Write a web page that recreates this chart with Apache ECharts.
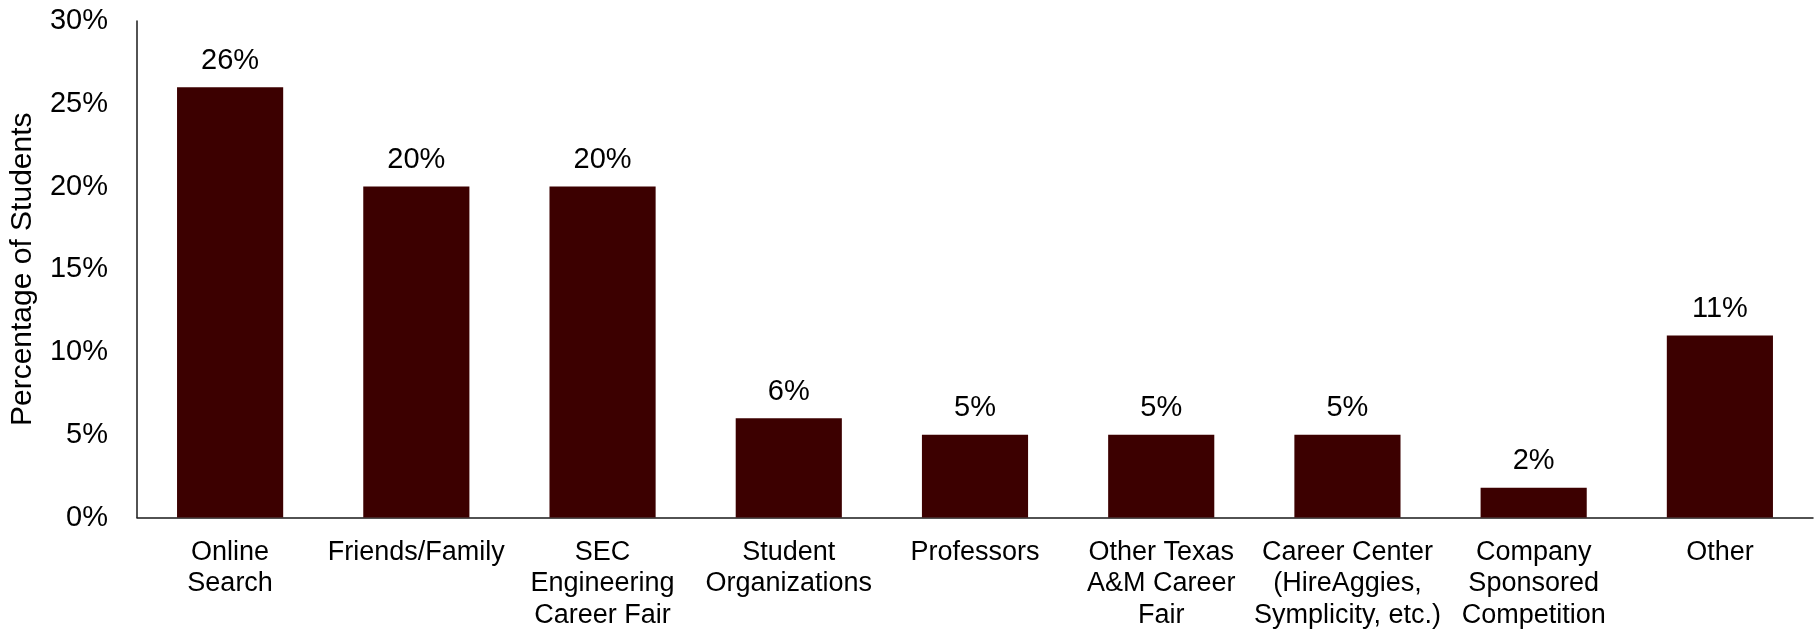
<!DOCTYPE html>
<html>
<head>
<meta charset="utf-8">
<script src="https://cdn.jsdelivr.net/npm/echarts@6/dist/echarts.min.js"></script>
<style>
html,body{margin:0;padding:0;background:#fff;}
#chart{width:1819px;height:631px;}
</style>
</head>
<body>
<div id="chart"></div>
<script>
const categories = [
  "Online\nSearch",
  "Friends/Family",
  "SEC\nEngineering\nCareer Fair",
  "Student\nOrganizations",
  "Professors",
  "Other Texas\nA&M Career\nFair",
  "Career Center\n(HireAggies,\nSymplicity, etc.)",
  "Company\nSponsored\nCompetition",
  "Other"
];
const values = [26, 20, 20, 6, 5, 5, 5, 1.8, 11];
const yTicks = { min: 0, max: 30, interval: 5 };
const yAxisTitle = "Percentage of Students";

const FONT = "'Liberation Sans', Arial, sans-serif";
const chart = echarts.init(document.getElementById('chart'), null, { renderer: 'canvas' });
chart.setOption({
  animation: false,
  backgroundColor: '#ffffff',
  grid: { left: 137, right: 6, top: 21, bottom: 109, containLabel: false },
  xAxis: {
    type: 'category',
    data: categories,
    axisLine: { show: true, lineStyle: { color: '#1a1a1a', width: 1.5 } },
    axisTick: { show: false },
    axisLabel: {
      interval: 0,
      color: '#000',
      fontFamily: FONT,
      fontSize: 27,
      lineHeight: 31.5,
      margin: 19
    }
  },
  yAxis: {
    type: 'value',
    min: yTicks.min,
    max: yTicks.max,
    interval: yTicks.interval,
    name: yAxisTitle,
    nameLocation: 'middle',
    nameGap: 99,
    nameTextStyle: { color: '#000', fontFamily: FONT, fontSize: 30 },
    splitLine: { show: false },
    axisLine: { show: true, lineStyle: { color: '#1a1a1a', width: 1.5 } },
    axisTick: { show: false },
    axisLabel: {
      color: '#000',
      fontFamily: FONT,
      fontSize: 29,
      margin: 29,
      formatter: v => v + '%'
    }
  },
  series: [{
    type: 'bar',
    data: values,
    barWidth: '57%',
    itemStyle: { color: '#3c0000' },
    label: {
      show: true,
      position: 'top',
      distance: 12,
      color: '#000',
      fontFamily: FONT,
      fontSize: 29,
      formatter: p => Math.round(p.value) + '%'
    }
  }]
});
</script>
</body>
</html>
